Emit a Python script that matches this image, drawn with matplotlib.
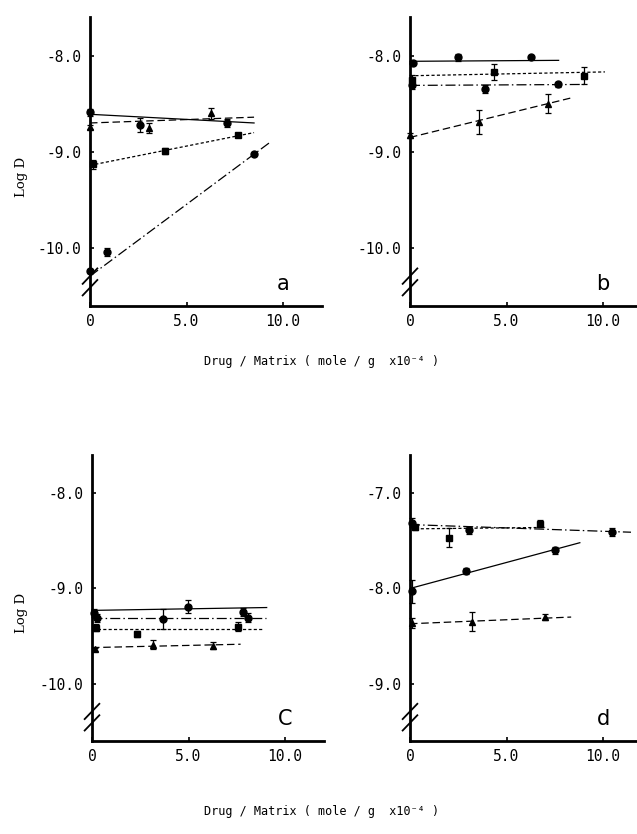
import matplotlib.pyplot as plt
import numpy as np

W, H = 637, 834

# ---- panel a ----
a_x = [[0.0, 2.6, 7.1], [0.0, 3.05, 6.25], [0.15, 3.9, 7.65], [0.0, 0.9, 8.5]]
a_y = [[-8.59, -8.72, -8.70], [-8.74, -8.75, -8.60], [-9.13, -8.99, -8.83], [-10.24, -10.04, -9.02]]
a_err = [[0.04, 0.07, 0.04], [0.02, 0.05, 0.06], [0.05, 0.03, 0.02], [0.02, 0.04, 0.02]]
a_fit_x = [[0.0, 8.5], [0.0, 8.5], [0.0, 8.5], [0.0, 9.4]]
a_fit_y = [[-8.61, -8.70], [-8.70, -8.64], [-9.14, -8.80], [-10.29, -8.89]]

# ---- panel b ----
b_x = [[0.15, 2.5, 6.25], [0.12, 4.35, 9.0], [0.12, 3.9, 7.65], [0.0, 3.6, 7.15]]
b_y = [[-8.08, -8.02, -8.02], [-8.25, -8.17, -8.21], [-8.31, -8.35, -8.30], [-8.83, -8.69, -8.50]]
b_err = [[0.02, 0.04, 0.02], [0.05, 0.08, 0.09], [0.04, 0.04, 0.03], [0.03, 0.12, 0.10]]
b_fit_x = [[0.0, 7.7], [0.0, 10.1], [0.0, 9.2], [0.0, 8.35]]
b_fit_y = [[-8.06, -8.05], [-8.21, -8.17], [-8.31, -8.30], [-8.85, -8.44]]

# ---- panel c ----
c_x = [[0.12, 4.95, 7.8], [0.25, 3.7, 8.1], [0.2, 2.35, 7.55], [0.15, 3.15, 6.25]]
c_y = [[-9.26, -9.19, -9.245], [-9.31, -9.32, -9.305], [-9.41, -9.48, -9.40], [-9.64, -9.59, -9.60]]
c_err = [[0.04, 0.07, 0.04], [0.04, 0.10, 0.05], [0.04, 0.03, 0.05], [0.02, 0.05, 0.04]]
c_fit_x = [[0.0, 9.05], [0.0, 9.0], [0.0, 8.9], [0.0, 7.7]]
c_fit_y = [[-9.23, -9.20], [-9.31, -9.31], [-9.43, -9.43], [-9.62, -9.585]]

# ---- panel d ----
d_x = [[0.1, 2.9, 7.5], [0.1, 3.05, 10.45], [0.25, 2.0, 6.75], [0.1, 3.2, 7.0]]
d_y = [[-8.03, -7.82, -7.60], [-7.31, -7.39, -7.41], [-7.36, -7.47, -7.32], [-8.36, -8.35, -8.30]]
d_err = [[0.12, 0.03, 0.04], [0.05, 0.04, 0.04], [0.03, 0.10, 0.04], [0.05, 0.10, 0.03]]
d_fit_x = [[0.0, 8.8], [0.0, 11.45], [0.0, 7.0], [0.0, 8.35]]
d_fit_y = [[-8.00, -7.52], [-7.33, -7.41], [-7.375, -7.36], [-8.37, -8.30]]

x_ticks = [0, 5, 10]
x_tick_labels = ["0", "5.0", "10.0"]

SOLID = "-"
DASHDOT = (0, (8, 2.5, 1.2, 2.5))
SHORTDASH = (0, (2.5, 1.8))
LONGDASH = (0, (6, 3))

panels = [
    dict(px=(90, 17, 306), xs=a_x, ys=a_y, errs=a_err, fx=a_fit_x, fy=a_fit_y,
         markers=["o", "^", "s", "o"], styles=[SOLID, LONGDASH, SHORTDASH, DASHDOT],
         ylim=(-10.6, -7.6), yticks=[-8, -9, -10], letter="a", ylabel=True),
    dict(px=(410, 17, 306), xs=b_x, ys=b_y, errs=b_err, fx=b_fit_x, fy=b_fit_y,
         markers=["o", "s", "o", "^"], styles=[SOLID, SHORTDASH, DASHDOT, LONGDASH],
         ylim=(-10.6, -7.6), yticks=[-8, -9, -10], letter="b", ylabel=False),
    dict(px=(92, 455, 741), xs=c_x, ys=c_y, errs=c_err, fx=c_fit_x, fy=c_fit_y,
         markers=["o", "o", "s", "^"], styles=[SOLID, DASHDOT, SHORTDASH, LONGDASH],
         ylim=(-10.6, -7.6), yticks=[-8, -9, -10], letter="C", ylabel=True),
    dict(px=(410, 455, 741), xs=d_x, ys=d_y, errs=d_err, fx=d_fit_x, fy=d_fit_y,
         markers=["o", "o", "s", "^"], styles=[SOLID, DASHDOT, SHORTDASH, LONGDASH],
         ylim=(-9.6, -6.6), yticks=[-7, -8, -9], letter="d", ylabel=False),
]

MONO = "DejaVu Sans Mono"

fig = plt.figure(figsize=(W / 100, H / 100), dpi=100)

for p in panels:
    left, top, bottom = p["px"]
    ax = fig.add_axes([left / W, 1 - bottom / H, 231.6 / W, (bottom - top) / H])
    for x, y, e, m in zip(p["xs"], p["ys"], p["errs"], p["markers"]):
        ax.errorbar(x, y, yerr=e, fmt=m, color="black", ms=5, elinewidth=0.9,
                    capsize=2.2, capthick=0.9, clip_on=False, zorder=3)
    for fx, fy, ls in zip(p["fx"], p["fy"], p["styles"]):
        ax.plot(fx, fy, color="black", lw=0.9, linestyle=ls, clip_on=False)
    ax.set_xlim(0, 12)
    ax.set_ylim(*p["ylim"])
    ax.set_xticks(x_ticks)
    ax.set_xticklabels(x_tick_labels)
    ax.set_yticks(p["yticks"])
    ax.set_yticklabels([f"{t:.1f}" for t in p["yticks"]])
    for s in ["top", "right"]:
        ax.spines[s].set_visible(False)
    for s in ["left", "bottom"]:
        ax.spines[s].set_linewidth(2.0)
    ax.tick_params(direction="in", length=3, width=1.2, labelsize=10.5, pad=6)
    for lab in ax.get_xticklabels() + ax.get_yticklabels():
        lab.set_family(MONO)
    # axis break marks
    ybrk = p["ylim"][0] + 0.25
    for off in (-0.06, 0.06):
        ax.plot([-0.38, 0.38], [ybrk + off - 0.08, ybrk + off + 0.08], color="black",
                lw=1.3, clip_on=False)
    ax.text(10.0, ybrk - 0.02, p["letter"], fontsize=15, ha="center", va="center",
            family="DejaVu Sans")
    if p["ylabel"]:
        fig.text(22 / W, 1 - ((top + bottom) / 2 + 15) / H, "Log D", rotation=90,
                 ha="center", va="center", fontsize=9.5, family="DejaVu Serif")

xlab = "Drug / Matrix ( mole / g  x10⁻⁴ )"
fig.text(322 / W, 1 - 362 / H, xlab, ha="center", va="center", fontsize=8.5, family=MONO)
fig.text(322 / W, 1 - 812 / H, xlab, ha="center", va="center", fontsize=8.5, family=MONO)

fig.savefig("out.png", dpi=100)
